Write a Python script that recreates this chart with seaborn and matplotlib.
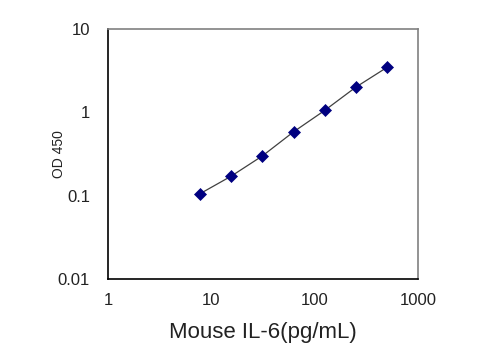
import matplotlib
matplotlib.use("Agg")
import matplotlib.pyplot as plt
import seaborn as sns
import pandas as pd
from matplotlib.ticker import LogLocator, FixedLocator, FixedFormatter, NullFormatter

conc = [7.8, 15.6, 31.25, 62.5, 125, 250, 500]
od = [0.106, 0.172, 0.301, 0.585, 1.057, 2.01, 3.47]
xticks = [1, 10, 100, 1000]
xticklabels = ["1", "10", "100", "1000"]
yticks = [0.01, 0.1, 1, 10]
yticklabels = ["0.01", "0.1", "1", "10"]

sns.set_style("white")
plt.rcParams['font.family'] = ['Liberation Sans', 'DejaVu Sans']

df = pd.DataFrame({"conc": conc, "od": od})
fig = plt.figure(figsize=(5, 3.6), dpi=100)
ax = fig.add_axes([0.216, 0.225, 0.62, 0.694])
sns.lineplot(data=df, x="conc", y="od", ax=ax, color="#404040", linewidth=0.9,
             marker="D", markersize=6.5, markerfacecolor="#000080",
             markeredgecolor="#000080", markeredgewidth=0.5)
ax.set_xscale("log")
ax.set_yscale("log")
ax.set_xlim(1, 1000)
ax.set_ylim(0.01, 10)
ax.xaxis.set_major_locator(FixedLocator(xticks))
ax.xaxis.set_major_formatter(FixedFormatter(xticklabels))
ax.yaxis.set_major_locator(FixedLocator(yticks))
ax.yaxis.set_major_formatter(FixedFormatter(yticklabels))
ax.xaxis.set_minor_locator(LogLocator(base=10, subs=range(2, 10)))
ax.yaxis.set_minor_locator(LogLocator(base=10, subs=range(2, 10)))
ax.xaxis.set_minor_formatter(NullFormatter())
ax.yaxis.set_minor_formatter(NullFormatter())
ax.tick_params(axis="both", which="major", direction="in", length=5, width=1,
               labelsize=12, color="black", labelcolor="#222222")
ax.tick_params(axis="both", which="minor", direction="in", length=3, width=0.8, color="black")
ax.tick_params(axis="y", which="major", pad=13)
ax.tick_params(axis="x", which="major", pad=10)
for s in ["left", "bottom"]:
    ax.spines[s].set_color("black")
    ax.spines[s].set_linewidth(1.2)
for s in ["top", "right"]:
    ax.spines[s].set_color("#808080")
    ax.spines[s].set_linewidth(1.2)
ax.set_xlabel("Mouse IL-6(pg/mL)", fontsize=16, labelpad=10, color="#222222")
ax.set_ylabel("OD 450", fontsize=10, color="#222222")
ax.yaxis.set_label_coords(-0.135, 0.5)
ax.grid(False)
fig.savefig("out.png", dpi=100)
